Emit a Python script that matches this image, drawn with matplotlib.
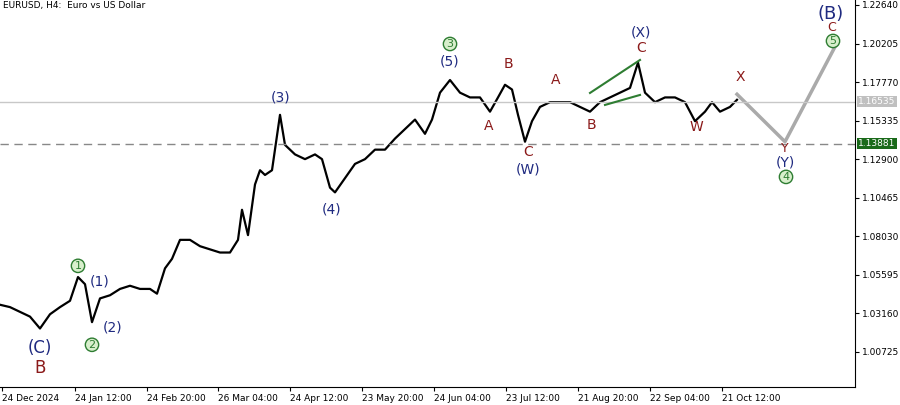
import matplotlib
matplotlib.use("Agg")
import matplotlib.pyplot as plt

# price path (x in chart px units, y in price)
X = [0, 10, 20, 30, 40, 50, 60, 70, 78, 85, 92, 100, 110, 120, 130, 140, 150, 157,
     165, 172, 180, 190, 200, 210, 220, 230, 238, 242, 248, 255, 260, 265, 272, 280,
     285, 295, 305, 315, 322, 330, 335, 345, 355, 365, 375, 385, 395, 405, 415, 425,
     432, 440, 450, 460, 470, 480, 490, 498, 505, 512, 518, 525, 532, 540, 550, 560,
     570, 580, 590, 600, 610, 620, 630, 638, 645, 655, 665, 675, 685, 695, 705, 712,
     720, 730, 737]
PRICE = [1.0370, 1.0355, 1.0325, 1.0295, 1.0220, 1.0310, 1.0355, 1.0395, 1.0545,
         1.0500, 1.0260, 1.0410, 1.0430, 1.0470, 1.0490, 1.0470, 1.0470, 1.0440,
         1.0600, 1.0660, 1.0780, 1.0780, 1.0740, 1.0720, 1.0700, 1.0700, 1.0780,
         1.0970, 1.0810, 1.1130, 1.1220, 1.1190, 1.1220, 1.1570, 1.1380, 1.1320,
         1.1290, 1.1320, 1.1290, 1.1110, 1.1080, 1.1170, 1.1260, 1.1290, 1.1350,
         1.1350, 1.1420, 1.1480, 1.1540, 1.1450, 1.1540, 1.1710, 1.1790, 1.1710,
         1.1680, 1.1680, 1.1590, 1.1680, 1.1760, 1.1730, 1.1570, 1.1400, 1.1530,
         1.1620, 1.1650, 1.1650, 1.1650, 1.1620, 1.1590, 1.1650, 1.1680, 1.1710,
         1.1740, 1.1900, 1.1710, 1.1650, 1.1680, 1.1680, 1.1650, 1.1530, 1.1590,
         1.1650, 1.1590, 1.1620, 1.1665]

PROJ_X = [737, 785, 835]
PROJ_Y = [1.1700, 1.1400, 1.2000]

TICK_X = [2, 75, 147, 218, 290, 362, 434, 506, 578, 650, 722]
TICK_LAB = ["24 Dec 2024", "24 Jan 12:00", "24 Feb 20:00", "26 Mar 04:00", "24 Apr 12:00",
            "23 May 20:00", "24 Jun 04:00", "23 Jul 12:00", "21 Aug 20:00", "22 Sep 04:00",
            "21 Oct 12:00"]
Y_TICKS = [1.22640, 1.20205, 1.17770, 1.15335, 1.12900, 1.10465, 1.08030, 1.05595,
           1.03160, 1.00725]

NAVY = "#1f2a80"
RED = "#8b1a1a"
GREEN = "#2e7d32"


def py(p):
    # pixel row -> price
    return 1.2264 - (p - 5) * 0.02435 / 38.56


fig = plt.figure(figsize=(9, 4.05), dpi=100)
ax = fig.add_axes([0.0, 0.045, 0.95, 0.955])
ax.set_xlim(0, 855)
ax.set_ylim(py(387), py(0))

ax.plot(X, PRICE, color="black", lw=1.6)
ax.plot(PROJ_X, PROJ_Y, color="#aaaaaa", lw=2.5)
ax.axhline(1.16535, color="#c8c8c8", lw=1)
ax.axhline(1.13881, color="#888888", lw=1, ls=(0, (6, 4)))
ax.plot([590, 640], [py(93), py(60)], color=GREEN, lw=1.5)
ax.plot([605, 640], [py(105), py(95)], color=GREEN, lw=1.5)

labels = [
    ("(C)", 40, 348, NAVY, 12), ("B", 40, 368, RED, 12),
    ("(1)", 100, 282, NAVY, 10), ("(2)", 113, 328, NAVY, 10),
    ("(3)", 281, 98, NAVY, 10), ("(4)", 332, 210, NAVY, 10), ("(5)", 450, 62, NAVY, 10),
    ("B", 508, 64, RED, 10), ("A", 489, 126, RED, 10), ("C", 528, 152, RED, 10),
    ("(W)", 528, 170, NAVY, 10), ("A", 556, 80, RED, 10), ("B", 591, 125, RED, 10),
    ("(X)", 641, 33, NAVY, 10), ("C", 641, 48, RED, 10), ("W", 696, 127, RED, 10),
    ("X", 740, 77, RED, 10), ("Y", 785, 149, RED, 9), ("(Y)", 785, 163, NAVY, 10),
    ("(B)", 831, 14, NAVY, 13), ("C", 832, 28, RED, 9),
]
for t, x, y, c, s in labels:
    ax.text(x, py(y), t, color=c, fontsize=s, ha="center", va="center")

circles = [("1", 78, 266), ("2", 92, 345), ("3", 450, 44), ("4", 786, 177), ("5", 833, 41)]
for t, x, y in circles:
    ax.text(x, py(y), t, color=GREEN, fontsize=8, ha="center", va="center",
            bbox=dict(boxstyle="circle,pad=0.15", fc="#d8efcc", ec=GREEN, lw=1))

ax.text(3, py(6), "EURUSD, H4:  Euro vs US Dollar", fontsize=6.5, va="center")

ax.yaxis.tick_right()
ax.set_yticks(Y_TICKS)
ax.set_yticklabels([f"{v:.5f}" for v in Y_TICKS], fontsize=6.5)
ax.set_xticks(TICK_X)
ax.set_xticklabels(TICK_LAB, fontsize=6.5, ha="left")
ax.tick_params(length=3, pad=2)
for s in ["top", "left"]:
    ax.spines[s].set_visible(False)

ax.text(858, 1.16535, "1.16535", fontsize=6.5, color="white", va="center",
        clip_on=False, bbox=dict(boxstyle="square,pad=0.15", fc="#c0c0c0", ec="none"))
ax.text(858, 1.13881, "1.13881", fontsize=6.5, color="white", va="center",
        clip_on=False, bbox=dict(boxstyle="square,pad=0.15", fc="#1a6a1a", ec="none"))

fig.savefig("out.png", dpi=100)
